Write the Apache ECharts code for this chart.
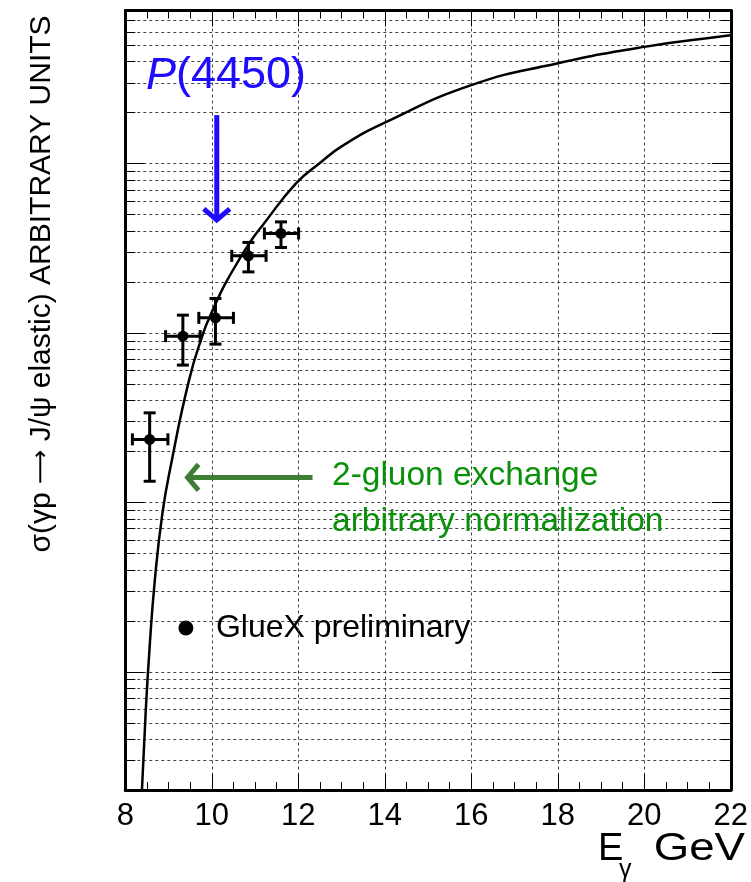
<!DOCTYPE html>
<html><head><meta charset="utf-8">
<script src="https://cdn.jsdelivr.net/npm/echarts@6/dist/echarts.min.js"></script>
<style>html,body{margin:0;padding:0;background:#fff}#c{width:751px;height:882px}</style>
</head><body><div id="c"></div>
<script>
// ---- data ----
const xTickLabels = ['8','10','12','14','16','18','20','22'];
// 2-gluon exchange curve (E_gamma GeV, arbitrary units)
const curveE     = [8.385, 8.47, 8.563, 8.683, 8.858, 9.047, 9.474, 9.81, 9.95, 10.198, 10.357, 10.865, 11.176, 11.947, 12.485, 13.02, 14.0, 16.0, 17.98, 20.0, 21.9, 22.0];
const curveSigma = [0.0020, 0.00567, 0.0140, 0.0347, 0.0859, 0.162, 0.526, 1.01, 1.238, 1.71, 2.05, 3.37, 4.32, 7.62, 10.0, 12.7, 17.4, 29.0, 38.9, 48.8, 56.7, 57.2];
// GlueX preliminary points
const gluexE     = [8.563, 9.331, 10.085, 10.847, 11.60];
const gluexSigma = [0.235, 0.956, 1.226, 2.848, 3.862];
const gluexElo   = [8.164, 8.932, 9.70, 10.461, 11.216];
const gluexEhi   = [8.985, 9.732, 10.50, 11.255, 12.007];
const gluexSigLo = [0.133, 0.645, 0.858, 2.29, 3.19];
const gluexSigHi = [0.337, 1.272, 1.596, 3.418, 4.52];
// log-axis grid values
const yMajorGrid = [0.01, 0.1, 1, 10];
const yMinorGrid = [0.003,0.004,0.005,0.006,0.007,0.008,0.009,
                    0.02,0.03,0.04,0.05,0.06,0.07,0.08,0.09,
                    0.2,0.3,0.4,0.5,0.6,0.7,0.8,0.9,
                    2,3,4,5,6,7,8,9,
                    20,30,40,50,60,70];
// annotation arrows in data coordinates [E start, sigma start, E tip, sigma tip]
const pArrow = [10.115, 19.3, 10.115, 4.52];
const gluonArrow = [12.33, 0.140, 9.393, 0.140];

const FONT = '"Liberation Sans", Arial, Helvetica, sans-serif';
const BLUE = '#1e0aff';
const GREEN_TXT = '#0a900a';
const GREEN_ARR = '#3f7f35';

const chart = echarts.init(document.getElementById('c'));

function gridRender(tickLen){
  return function(params, api){
    const cs = params.coordSys;
    const y = Math.round(api.coord([8, api.value(1)])[1]) + 0.5;
    const x0 = cs.x, x1 = cs.x + cs.width;
    return {type:'group', children:[
      {type:'line', shape:{x1:x0, y1:y, x2:x1, y2:y}, style:{stroke:'#444', lineWidth:1, lineDash:[3,3]}},
      {type:'line', shape:{x1:x0, y1:y, x2:x0+tickLen, y2:y}, style:{stroke:'#000', lineWidth:1}},
      {type:'line', shape:{x1:x1-tickLen, y1:y, x2:x1, y2:y}, style:{stroke:'#000', lineWidth:1}}
    ]};
  };
}

function errRender(params, api){
  const x=api.value(0), y=api.value(1);
  const c=api.coord([x,y]);
  const xl=api.coord([api.value(2),y])[0], xh=api.coord([api.value(3),y])[0];
  const yl=api.coord([x,api.value(4)])[1], yh=api.coord([x,api.value(5)])[1];
  const cap=6, st={stroke:'#000', lineWidth:3};
  const L=(a,b,cc,d)=>({type:'line', shape:{x1:a,y1:b,x2:cc,y2:d}, style:st});
  return {type:'group', children:[
    L(xl,c[1],xh,c[1]), L(c[0],yl,c[0],yh),
    L(xl,c[1]-cap,xl,c[1]+cap), L(xh,c[1]-cap,xh,c[1]+cap),
    L(c[0]-cap,yl,c[0]+cap,yl), L(c[0]-cap,yh,c[0]+cap,yh)
  ]};
}

function arrowRender(color){
  return function(params, api){
    const a = api.coord([api.value(0), api.value(1)]);
    const b = api.coord([api.value(2), api.value(3)]);
    let dx=b[0]-a[0], dy=b[1]-a[1]; const len=Math.hypot(dx,dy); dx/=len; dy/=len;
    const nx=-dy, ny=dx, h=13;
    return {type:'group', children:[
      {type:'line', shape:{x1:a[0],y1:a[1],x2:b[0]-dx*3,y2:b[1]-dy*3}, style:{stroke:color, lineWidth:5}},
      {type:'polyline', shape:{points:[[b[0]-dx*h+nx*h, b[1]-dy*h+ny*h],[b[0]-dx*2,b[1]-dy*2],[b[0]-dx*h-nx*h, b[1]-dy*h-ny*h]]},
        style:{stroke:color, lineWidth:5, fill:null, lineJoin:'miter'}}
    ]};
  };
}

const xCommon = {
  type:'value', min:8, max:22, interval:2, z:5,
  axisLine:{show:true, onZero:false, lineStyle:{color:'#000', width:3}},
  axisTick:{show:true, inside:true, length:16, lineStyle:{color:'#000', width:1}},
  minorTick:{show:true, splitNumber:4, length:8, lineStyle:{color:'#000', width:1}}
};
const yCommon = {
  type:'log', logBase:10, min:0.002, max:80, z:5,
  axisLine:{show:true, onZero:false, lineStyle:{color:'#000', width:3}},
  axisTick:{show:false}, axisLabel:{show:false}, splitLine:{show:false}, minorTick:{show:false}
};

chart.setOption({
  animation:false,
  backgroundColor:'#fff',
  grid:{left:125.3, right:19.7, top:10.5, bottom:92, containLabel:false},
  xAxis:[
    Object.assign({}, xCommon, {position:'bottom',
      axisLabel:{show:true, margin:11, color:'#000', fontSize:31, fontFamily:FONT,
        formatter:(v)=>xTickLabels[Math.round((v-8)/2)]},
      splitLine:{show:true, lineStyle:{color:'#444', width:1, type:[3,3]}}}),
    Object.assign({}, xCommon, {position:'top', axisLabel:{show:false}, splitLine:{show:false}})
  ],
  yAxis:[
    Object.assign({}, yCommon, {position:'left'}),
    Object.assign({}, yCommon, {position:'right'})
  ],
  legend:{
    left:178.4, top:612, padding:0, itemWidth:50, itemHeight:15,
    textStyle:{fontSize:32, fontFamily:FONT, color:'#000'},
    data:[{name:'GlueX preliminary', icon:'circle', itemStyle:{color:'#000', opacity:1}}]
  },
  series:[
    {type:'custom', name:'gridMajor', z:1, silent:true, renderItem:gridRender(19),
      data: yMajorGrid.map(v=>[8,v])},
    {type:'custom', name:'gridMinor', z:1, silent:true, renderItem:gridRender(10),
      data: yMinorGrid.map(v=>[8,v])},
    {type:'line', name:'2-gluon exchange', z:10, showSymbol:false, smooth:0.5, clip:true,
      lineStyle:{color:'#000', width:2.5},
      data: curveE.map((e,i)=>[e, curveSigma[i]])},
    {type:'custom', name:'errors', z:11, renderItem:errRender,
      data: gluexE.map((e,i)=>[e, gluexSigma[i], gluexElo[i], gluexEhi[i], gluexSigLo[i], gluexSigHi[i]])},
    {type:'scatter', name:'GlueX preliminary', z:12, symbol:'circle', symbolSize:11,
      itemStyle:{color:'#000', opacity:1},
      data: gluexE.map((e,i)=>[e, gluexSigma[i]])},
    {type:'custom', name:'pArrow', z:12, renderItem:arrowRender(BLUE), data:[pArrow]},
    {type:'custom', name:'gluonArrow', z:12, renderItem:arrowRender(GREEN_ARR), data:[gluonArrow]}
  ],
  graphic:[
    {type:'text', x:146, y:76, z:20, style:{text:'{i|P}{n|(4450)}',
      rich:{i:{font:'italic 45px '+FONT, fill:BLUE}, n:{font:'45px '+FONT, fill:BLUE}},
      fill:BLUE, verticalAlign:'middle'}},
    {type:'text', x:332, y:476, z:20, style:{text:'2-gluon exchange', font:'33.5px '+FONT, fill:GREEN_TXT, verticalAlign:'middle'}},
    {type:'text', x:332, y:522, z:20, style:{text:'arbitrary normalization', font:'33.5px '+FONT, fill:GREEN_TXT, verticalAlign:'middle'}},
    {type:'text', x:42, y:284, rotation:Math.PI/2, z:20, style:{text:'{t|σ(γp }{a|⟶}{t| J/ψ elastic) ARBITRARY UNITS}',
      rich:{t:{font:'30px '+FONT, fill:'#000'}, a:{font:'24px "DejaVu Sans", sans-serif', fill:'#000'}},
      fill:'#000', align:'center', verticalAlign:'middle'}},
    {type:'text', x:598, y:850, z:20, style:{text:'E', font:'38px '+FONT, fill:'#000', verticalAlign:'middle'}},
    {type:'text', x:619, y:870, z:20, style:{text:'γ', font:'25px '+FONT, fill:'#000', verticalAlign:'middle'}},
    {type:'text', x:745, y:850, z:20, scaleX:1.2, style:{text:'GeV', font:'38px '+FONT, fill:'#000', align:'right', verticalAlign:'middle'}}
  ]
});
</script>
</body></html>
